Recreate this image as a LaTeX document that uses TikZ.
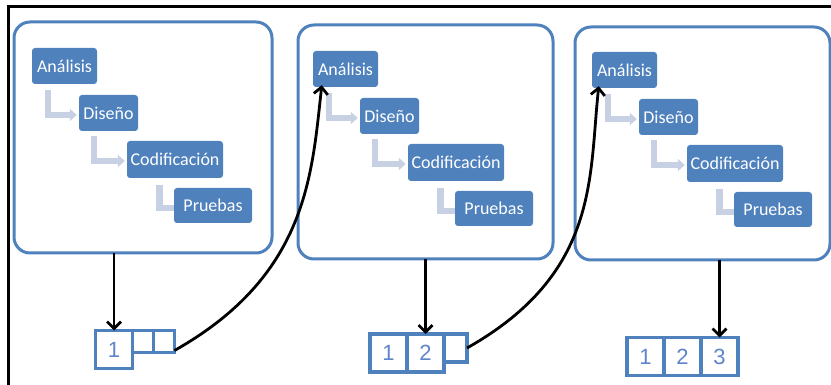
\documentclass[tikz,border=0pt]{standalone}
\usepackage{fontspec}
\setmainfont{Carlito}
\newfontfamily\digitfont{Liberation Sans}
\usetikzlibrary{arrows.meta,positioning}
\definecolor{boxblue}{RGB}{79,129,189}
\definecolor{elbowgray}{RGB}{200,209,228}
\definecolor{digitblue}{RGB}{95,133,200}

\begin{document}
\begin{tikzpicture}[x=1pt,y=-1pt,
    panel/.style={draw=boxblue,line width=3pt,rounded corners=16pt,inner sep=0pt,outer sep=0pt},
    phase/.style={fill=boxblue,text=white,rounded corners=3pt,minimum height=36pt,inner sep=0pt,font=\fontsize{18}{18}\selectfont},
    elbow/.style={draw=elbowgray,line width=6.5pt,-{Triangle[length=7pt,width=12pt]}},
    cell/.style={draw=boxblue,line width=3.3pt,inner sep=0pt,outer sep=0pt,minimum width=37pt,minimum height=38pt,text=digitblue,font=\digitfont\fontsize{22}{22}\selectfont},
    slot/.style={draw=boxblue,line width=3.3pt,inner sep=0pt,outer sep=0pt,minimum width=21pt,minimum height=22pt},
    flow/.style={line width=2.8pt,-{Straight Barb[length=7pt,width=14pt]}}]
    \useasboundingbox (0,0) rectangle (831,385);
    \draw[line width=3pt] (8.5,385) |- (831,6.5);

    % one panel per iteration
    \foreach \i/\dx/\dy/\px/\py/\pw/\ph in {1/0/0/143/137.5/258/231, 2/281/3/425.5/142/255/234, 3/560/4/702.5/143.5/255/233} {
        \node[panel,minimum width=\pw pt,minimum height=\ph pt] (panel\i) at (\px,\py) {};
        \begin{scope}[shift={(\dx,\dy)}]
            \node[phase,minimum width=65pt] (ana\i) at (64.5,66) {Análisis};
            \node[phase,minimum width=59pt] (dis\i) at (108.5,113) {Diseño};
            \node[phase,minimum width=96pt,minimum height=37pt] (cod\i) at (175,159.5) {Codificación};
            \node[phase,minimum width=78pt,minimum height=35pt] (pru\i) at (213,205.5) {Pruebas};
        \end{scope}
        \draw[elbow] ([xshift=16pt,yshift=-6pt]ana\i.south west) |- ([xshift=-2pt,yshift=-2pt]dis\i.west);
        \draw[elbow] ([xshift=15pt,yshift=-5pt]dis\i.south west) |- ([xshift=-2pt,yshift=-1.5pt]cod\i.west);
        \draw[elbow,-] ([xshift=32.5pt,yshift=-7pt]cod\i.south west) |- ([yshift=-2.5pt]pru\i.west);
    }

    % first array
    \node[cell] (m11) at (114,349.5) {1};
    \node[slot,anchor=north west] (m12) at (m11.north east) {};
    \node[slot,anchor=north west] (m13) at (m12.north east) {};
    % second array
    \node[cell] (m21) at (388.5,353) {1};
    \node[cell,anchor=north west] (m22) at (m21.north east) {2};
    \node[slot,anchor=north west,minimum width=23pt,minimum height=28pt] (m23) at (m22.north east) {};
    % third array
    \node[cell] (m31) at (645.5,356.5) {1};
    \node[cell,anchor=north west] (m32) at (m31.north east) {2};
    \node[cell,anchor=north west] (m33) at (m32.north east) {3};

    \draw[flow] (m11.north |- panel1.south) -- (m11.north);
    \draw[flow] (m22.north |- panel2.south) -- (m22.north);
    \draw[flow] (m33.north |- panel3.south) -- (m33.north);
    \draw[flow] ([yshift=2pt]m13.south east) .. controls +(133,-75) and +(-10,90) .. ([xshift=9pt,yshift=2pt]ana2.south west);
    \draw[flow] (m23.east) .. controls +(133,-75) and +(-10,90) .. ([xshift=7pt,yshift=2pt]ana3.south west);
\end{tikzpicture}
\end{document}
